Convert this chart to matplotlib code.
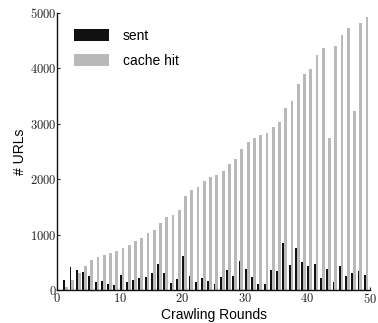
import matplotlib
matplotlib.use("Agg")
import matplotlib.pyplot as plt
from matplotlib.ticker import FuncFormatter
from matplotlib.patches import Patch

rounds = list(range(1, 50))
sent = [180, 415, 360, 325, 253, 145, 162, 108, 90, 270,
        150, 180, 217, 235, 307, 470, 312, 126, 204, 615,
        253, 145, 217, 162, 108, 235, 361, 253, 523, 379,
        235, 108, 108, 361, 343, 848, 451, 758, 505, 433,
        469, 217, 379, 144, 433, 253, 307, 343, 271]
cache_hit = [54, 180, 307, 433, 541, 596, 632, 668, 704, 758,
             812, 884, 939, 1029, 1083, 1209, 1318, 1350, 1440, 1695,
             1800, 1855, 1965, 2040, 2075, 2150, 2275, 2365, 2545, 2670,
             2745, 2800, 2835, 2940, 3030, 3285, 3410, 3720, 3900, 3990,
             4240, 4370, 2745, 4405, 4600, 4730, 3230, 4820, 4930]
series_labels = ["sent", "cache hit"]
x_ticks = [0, 10, 20, 30, 40, 50]
y_ticks = [0, 1000, 2000, 3000, 4000, 5000]

plt.rcParams['mathtext.fontset'] = 'cm'
sans = ['Liberation Sans', 'DejaVu Sans']

fig = plt.figure(figsize=(3.78, 3.23), dpi=100)
ax = fig.add_axes([0.151, 0.102, 0.828, 0.858])

black = '#111111'
gray = '#b9b9b9'
ax.bar([r + 0.0 for r in rounds], sent, width=0.3, align='edge', color=black, linewidth=0)
ax.bar([r + 0.3 for r in rounds], cache_hit, width=0.45, align='edge', color=gray, linewidth=0)

ax.set_xlim(0, 50)
ax.set_ylim(0, 5000)
ax.set_xticks(x_ticks)
ax.set_yticks(y_ticks)
fmt = FuncFormatter(lambda v, p: r'$%d$' % int(v))
ax.xaxis.set_major_formatter(fmt)
ax.yaxis.set_major_formatter(fmt)
ax.tick_params(direction='in', length=2.5, width=0.8, labelsize=9, pad=1.5, colors='#222222')
ax.tick_params(axis='y', pad=0.5)
for s in ['top', 'right']:
    ax.spines[s].set_visible(False)
for s in ['left', 'bottom']:
    ax.spines[s].set_linewidth(1.0)
    ax.spines[s].set_color('#111111')

ax.set_xlabel('Crawling Rounds', fontsize=10, family=sans, labelpad=1.5)
ax.set_ylabel('# URLs', fontsize=10, family=sans, labelpad=2)

handles = [Patch(facecolor=black, edgecolor='none'), Patch(facecolor=gray, edgecolor='none')]
leg = ax.legend(handles, series_labels, loc='upper left', bbox_to_anchor=(0.054, 0.942),
                frameon=False, borderpad=0, borderaxespad=0, handlelength=2.55,
                handleheight=0.95, handletextpad=0.95, labelspacing=0.8,
                prop={'family': sans, 'size': 10})

fig.savefig('out.png', dpi=100)
